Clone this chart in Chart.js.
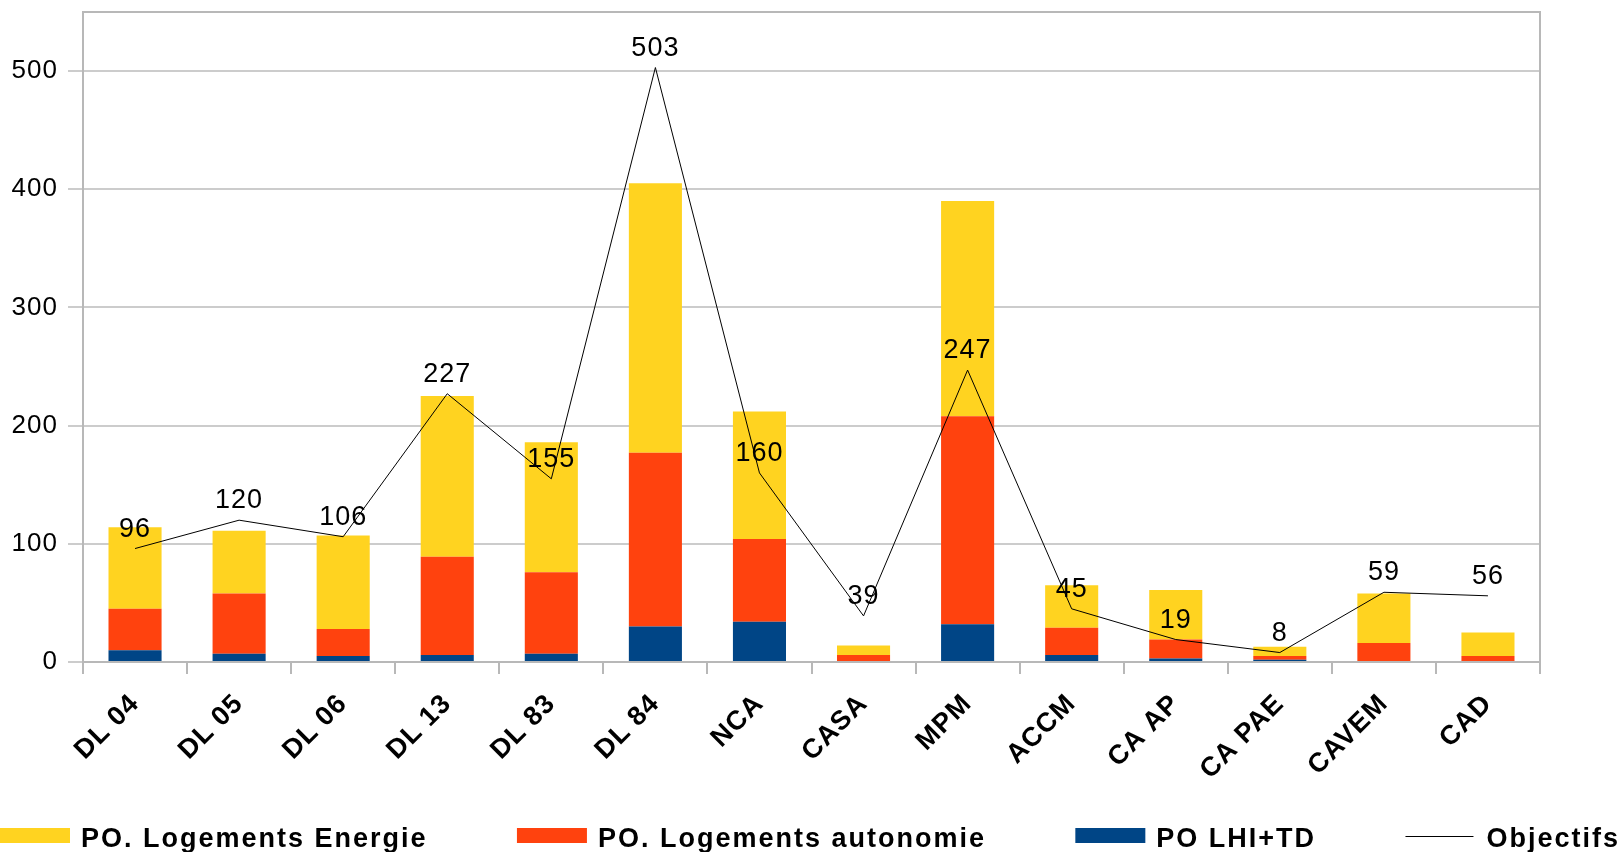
<!DOCTYPE html>
<html>
<head>
<meta charset="utf-8">
<script src="https://cdn.jsdelivr.net/npm/chart.js@4"></script>
<style>
  html, body { margin: 0; padding: 0; background: #fff; }
  #wrap { width: 1624px; height: 852px; }
</style>
</head>
<body>
<div id="wrap"><canvas id="myChart"></canvas></div>
<script>
// data
const labels = ['DL 04', 'DL 05', 'DL 06', 'DL 13', 'DL 83', 'DL 84', 'NCA', 'CASA', 'MPM', 'ACCM', 'CA AP', 'CA PAE', 'CAVEM', 'CAD'];
const lhiTd     = [10, 7, 5, 6, 7, 30, 34, 0, 32, 6, 3, 2, 0, 0];
const autonomie = [35, 51, 23, 83, 69, 147, 70, 6, 176, 23, 16, 3, 16, 5];
const energie   = [69, 53, 79, 136, 110, 228, 108, 8, 182, 36, 42, 8, 42, 20];
const objectifs = [96, 120, 106, 227, 155, 503, 160, 39, 247, 45, 19, 8, 59, 56];
const yMax = 550;
const yStep = 100;

const FONT = "'Liberation Sans', Arial, sans-serif";
Chart.defaults.font.family = FONT;
Chart.defaults.color = '#000';

const AXIS = '#b8b8b8';
const GRID = '#cccccc';

// value labels, frame and the bottom legend
const extras = {
  id: 'extras',
  beforeUpdate(chart) { chart.ctx.letterSpacing = '1px'; },
  beforeDraw(chart) { chart.ctx.letterSpacing = '1px'; },
  afterDatasetsDraw(chart) {
    const { ctx, chartArea } = chart;
    ctx.save();
    ctx.strokeStyle = AXIS;
    ctx.lineWidth = 2;
    ctx.beginPath();
    ctx.moveTo(chartArea.left, chartArea.top);
    ctx.lineTo(chartArea.right, chartArea.top);
    ctx.lineTo(chartArea.right, chartArea.bottom);
    ctx.stroke();

    const meta = chart.getDatasetMeta(0);
    ctx.font = '27px ' + FONT;
    ctx.fillStyle = '#000';
    ctx.textAlign = 'center';
    ctx.textBaseline = 'alphabetic';
    meta.data.forEach((pt, i) => {
      ctx.fillText(String(objectifs[i]), pt.x, pt.y - 12);
    });
    ctx.restore();
  },
  afterDraw(chart) {
    const ctx = chart.ctx;
    const ds = chart.data.datasets;
    // legend order as in the original
    const items = [ds[3], ds[2], ds[1], ds[0]];
    ctx.save();
    ctx.font = 'bold 27px ' + FONT;
    ctx.letterSpacing = '2px';
    const boxW = 70, gapT = 11;
    const widths = items.map(d => boxW + gapT + ctx.measureText(d.label).width);
    const total = widths.reduce((a, b) => a + b, 0);
    const gap = (chart.width - 4 - total) / (items.length - 1);
    const yc = chart.height - 16;
    let x = 0;
    items.forEach((d, i) => {
      if (d.type === 'line') {
        ctx.strokeStyle = d.borderColor;
        ctx.lineWidth = 1;
        ctx.beginPath();
        ctx.moveTo(x, yc + 0.5);
        ctx.lineTo(x + boxW - 2, yc + 0.5);
        ctx.stroke();
      } else {
        ctx.fillStyle = d.backgroundColor;
        ctx.fillRect(x, yc - 8, boxW, 15);
      }
      ctx.fillStyle = '#000';
      ctx.textAlign = 'left';
      ctx.textBaseline = 'alphabetic';
      ctx.fillText(d.label, x + boxW + gapT, yc + 11);
      x += widths[i] + gap;
    });
    ctx.restore();
  }
};

new Chart(document.getElementById('myChart'), {
  type: 'bar',
  data: {
    labels: labels,
    datasets: [
      {
        type: 'line',
        label: 'Objectifs',
        data: objectifs,
        borderColor: '#000000',
        backgroundColor: '#000000',
        borderWidth: 1,
        pointRadius: 0,
        tension: 0,
        fill: false,
        order: -1
      },
      { label: 'PO LHI+TD', data: lhiTd, backgroundColor: '#004586' },
      { label: 'PO. Logements autonomie', data: autonomie, backgroundColor: '#ff420e' },
      { label: 'PO. Logements Energie', data: energie, backgroundColor: '#ffd320' }
    ]
  },
  options: {
    responsive: true,
    maintainAspectRatio: false,
    animation: false,
    layout: { padding: { left: 0, right: 84, top: 12, bottom: 0 } },
    datasets: {
      bar: { barPercentage: 0.51, categoryPercentage: 1.0, borderWidth: 0 }
    },
    plugins: {
      legend: { display: false },
      tooltip: { enabled: false }
    },
    scales: {
      x: {
        stacked: true,
        grid: { offset: true, drawOnChartArea: false, color: AXIS, lineWidth: 2, tickLength: 12 },
        border: { color: AXIS, width: 2 },
        ticks: {
          maxRotation: 45,
          minRotation: 45,
          padding: 14,
          color: '#000',
          font: { size: 27, weight: 'bold' }
        },
        afterFit: s => { s.height = 190; s.paddingLeft = 0; s.paddingRight = 0; }
      },
      y: {
        stacked: true,
        min: 0,
        max: yMax,
        ticks: {
          stepSize: yStep,
          includeBounds: false,
          padding: 10,
          color: '#000',
          font: { size: 26 }
        },
        grid: { color: GRID, lineWidth: 2, tickLength: 15 },
        border: { color: AXIS, width: 2 },
        afterFit: s => { s.width = 83; s.paddingTop = 0; s.paddingBottom = 0; }
      }
    }
  },
  plugins: [extras]
});
</script>
</body>
</html>
